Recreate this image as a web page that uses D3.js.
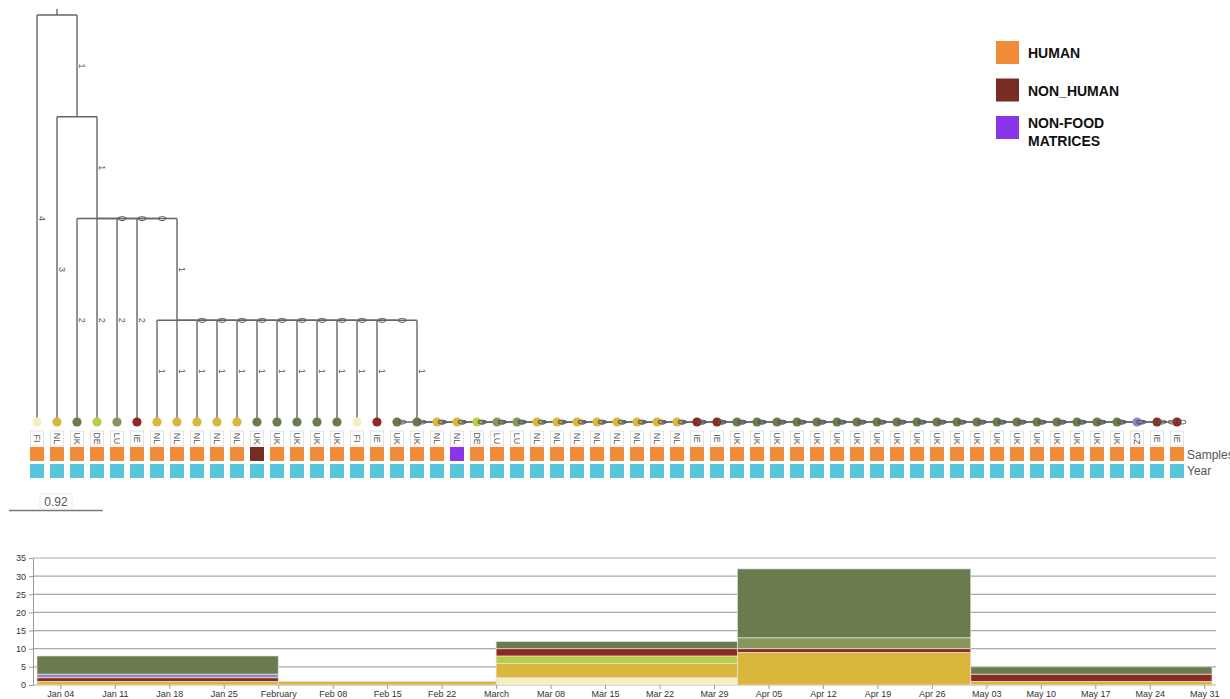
<!DOCTYPE html>
<html><head><meta charset="utf-8">
<script src="https://cdn.jsdelivr.net/npm/d3@7"></script>
<style>body{margin:0;background:#fff;} svg{display:block;font-family:"Liberation Sans",Arial,sans-serif;}</style>
</head><body>
<svg id="c" width="1230" height="699"></svg>
<script>
// ---------- DATA ----------
const treeNewick = "(0:4,(1:3,(2:2,3:2,4:2,5:2,(6:1,7:1,8:1,9:1,10:1,11:1,12:1,13:1,14:1,15:1,16:1,17:1,(18:0,19:0,20:0,21:0,22:0,23:0,24:0,25:0,26:0,27:0,28:0,29:0,30:0,31:0,32:0,33:0,34:0,35:0,36:0,37:0,38:0,39:0,40:0,41:0,42:0,43:0,44:0,45:0,46:0,47:0,48:0,49:0,50:0,51:0,52:0,53:0,54:0,55:0,56:0,57:0):1):1):1):1)";
const leafCountries = ["FI","NL","UK","DE","LU","IE","NL","NL","NL","NL","NL","UK","UK","UK","UK","UK","FI","IE","UK","UK",
  "NL","NL","DE","LU","LU","NL","NL","NL","NL","NL","NL","NL","NL","IE","IE",
  "UK","UK","UK","UK","UK","UK","UK","UK","UK","UK","UK","UK","UK","UK","UK","UK","UK","UK","UK","UK",
  "CZ","IE","IE"];
const leafSamples = ["H","H","H","H","H","H","H","H","H","H","H","N","H","H","H","H","H","H","H","H",
  "H","F","H","H","H","H","H","H","H","H","H","H","H","H","H",
  "H","H","H","H","H","H","H","H","H","H","H","H","H","H","H","H","H","H","H","H",
  "H","H","H"];
const legendLabels = [["HUMAN"],["NON_HUMAN"],["NON-FOOD","MATRICES"]];
const legendKeys = ["H","N","F"];
const scaleBarValue = 0.92;

const binStarts = ["2015-01-01","2015-02-01","2015-03-01","2015-04-01","2015-05-01"];
const binEnd = "2015-06-01";
const stackOrder = ["FI","NL","DE","IE","LU","CZ","UK"];
const countsFI = [0,0,2,0,0];
const countsNL = [1,1,4,9,1];
const countsDE = [0,0,2,0,0];
const countsIE = [1,0,2,1,2];
const countsLU = [0,0,0,3,0];
const countsCZ = [1,0,0,0,0];
const countsUK = [5,0,2,19,2];
const yTicks = [0,5,10,15,20,25,30,35];

// ---------- STYLES ----------
const countryColor = {FI:"#f6eebe",NL:"#dbb63d",UK:"#6a7c4e",DE:"#b8cf45",LU:"#84965a",IE:"#8c2b23",CZ:"#8d86c2"};
const sampleColor = {H:"#f28b37",N:"#772d24",F:"#8b35e8"};
const yearColor = "#57c5dc";

const svg = d3.select("#c");

// ---------- TREE ----------
function parseNewick(s){
  let i=0;
  function node(){
    const n={children:[]};
    if(s[i]==='('){ i++; n.children.push(node()); while(s[i]===','){i++; n.children.push(node());} i++; }
    let name=''; while(i<s.length && !':,()'.includes(s[i])) name+=s[i++];
    n.name=name;
    if(s[i]===':'){ i++; let num=''; while(i<s.length && !',()'.includes(s[i])) num+=s[i++]; n.length=+num; } else n.length=0;
    if(!n.children.length) delete n.children;
    return n;
  }
  return node();
}
function binarize(n){
  if(!n.children) return n;
  const kids = n.children.map(binarize);
  while(kids.length>2){
    const last2 = kids.splice(kids.length-2,2);
    kids.push({name:"",length:0,children:last2});
  }
  n.children = kids; return n;
}
const root = d3.hierarchy(binarize(parseNewick(treeNewick)));
const xLeaf = d3.scaleLinear().domain([0,57]).range([37,1177]);
const yDist = d3.scaleLinear().domain([0,4]).range([15,422]);
root.each(n=>{ n.dist = n.parent ? n.parent.dist + n.data.length : 0; });
root.eachAfter(n=>{ n.px = n.children ? d3.mean(n.children,c=>c.px) : xLeaf(+n.data.name); });

const gTree = svg.append("g");
const lineCol = "#666";
gTree.append("line").attr("x1",root.px).attr("x2",root.px).attr("y1",yDist(0)-6).attr("y2",yDist(0))
  .attr("stroke",lineCol).attr("stroke-width",1.4);
gTree.selectAll("line.v").data(root.descendants().filter(d=>d.parent)).join("line")
  .attr("x1",d=>d.px).attr("x2",d=>d.px)
  .attr("y1",d=>yDist(d.parent.dist)).attr("y2",d=>yDist(d.dist))
  .attr("stroke",lineCol).attr("stroke-width",1.4);
gTree.selectAll("line.h").data(root.descendants().filter(d=>d.children)).join("line")
  .attr("x1",d=>d3.min(d.children,c=>c.px)).attr("x2",d=>d3.max(d.children,c=>c.px))
  .attr("y1",d=>yDist(d.dist)).attr("y2",d=>yDist(d.dist))
  .attr("stroke",lineCol).attr("stroke-width",1.4);

const leaves = root.leaves();
gTree.selectAll("circle.leaf").data(leaves).join("circle")
  .attr("cx",d=>d.px).attr("cy",d=>yDist(d.dist)).attr("r",4.6)
  .attr("fill",d=>countryColor[leafCountries[+d.data.name]]);
gTree.selectAll("text.bl").data(root.descendants().filter(d=>d.parent)).join("text")
  .attr("transform",d=>`translate(${d.px+4.5},${(yDist(d.parent.dist)+yDist(d.dist))/2}) rotate(90)`)
  .attr("text-anchor","middle").attr("dominant-baseline","central")
  .attr("font-size",d=>d.data.length===0?10:9).attr("fill","#555").text(d=>d.data.length);

// leaf label boxes
const gLab = svg.append("g");
gLab.selectAll("rect").data(leaves).join("rect")
  .attr("x",d=>d.px-6.5).attr("y",431).attr("width",13).attr("height",15)
  .attr("fill","#fff").attr("stroke","#dcdcdc").attr("stroke-width",0.8);
gLab.selectAll("text").data(leaves).join("text")
  .attr("transform",d=>`translate(${d.px},438.5) rotate(90)`)
  .attr("text-anchor","middle").attr("dominant-baseline","central")
  .attr("font-size",9).attr("fill","#555").text(d=>leafCountries[+d.data.name]);

// sample row & year row
svg.append("g").selectAll("rect").data(leaves).join("rect")
  .attr("x",d=>d.px-7).attr("y",447).attr("width",14).attr("height",14)
  .attr("fill",d=>sampleColor[leafSamples[+d.data.name]]);
svg.append("g").selectAll("rect").data(leaves).join("rect")
  .attr("x",d=>d.px-7).attr("y",464).attr("width",14).attr("height",14)
  .attr("fill",yearColor);
svg.append("text").attr("x",1187).attr("y",458.5).attr("font-size",12).attr("fill","#555").text("Samples");
svg.append("text").attr("x",1187).attr("y",475).attr("font-size",12).attr("fill","#555").text("Year");

// scale bar
const sbLen = yDist(scaleBarValue)-yDist(0);
svg.append("line").attr("x1",9).attr("x2",9+sbLen).attr("y1",510.5).attr("y2",510.5).attr("stroke","#777").attr("stroke-width",1.4);
svg.append("rect").attr("x",40).attr("y",494).attr("width",32).attr("height",15).attr("fill","#fff").attr("stroke","#e4e4e4").attr("stroke-width",0.8);
svg.append("text").attr("x",56).attr("y",506).attr("text-anchor","middle").attr("font-size",12).attr("fill","#555").text(scaleBarValue);

// legend
const gLeg = svg.append("g");
legendKeys.forEach((k,i)=>{
  const y0 = 41 + i*37.5;
  gLeg.append("rect").attr("x",996).attr("y",y0).attr("width",23).attr("height",23).attr("fill",sampleColor[k]);
  legendLabels[i].forEach((t,j)=>{
    gLeg.append("text").attr("x",1028).attr("y",y0+17+j*18 - (legendLabels[i].length>1?5:0))
      .attr("font-size",14).attr("font-weight","bold").attr("fill","#111").text(t);
  });
});

// ---------- HISTOGRAM ----------
const parse = d3.utcParse("%Y-%m-%d");
const bins = binStarts.map((s,i)=>({start:parse(s), end: parse(i<binStarts.length-1?binStarts[i+1]:binEnd),
  FI:countsFI[i],NL:countsNL[i],DE:countsDE[i],IE:countsIE[i],LU:countsLU[i],CZ:countsCZ[i],UK:countsUK[i]}));
const x = d3.scaleUtc().domain([parse(binStarts[0]),parse(binEnd)]).range([37,1212]);
const y = d3.scaleLinear().domain([0,35]).range([685,558]);
const gH = svg.append("g");
gH.selectAll("line.grid").data(yTicks).join("line")
  .attr("x1",33).attr("x2",1216).attr("y1",d=>y(d)).attr("y2",d=>y(d))
  .attr("stroke","#a9a9a9").attr("stroke-width",1.2);
const ya = gH.append("g").attr("transform","translate(33,0)")
  .call(d3.axisLeft(y).tickValues(yTicks).tickSize(4).tickSizeOuter(0));
ya.select(".domain").attr("stroke","#999");
ya.selectAll(".tick line").attr("stroke","#999");
ya.selectAll("text").attr("font-size",9).attr("fill","#333").attr("font-family","Liberation Sans, Arial, sans-serif");
const stacked = d3.stack().keys(stackOrder)(bins);
gH.selectAll("g.layer").data(stacked).join("g").attr("fill",d=>countryColor[d.key])
  .selectAll("rect").data(d=>d.filter(s=>s[1]>s[0])).join("rect")
  .attr("x",d=>x(d.data.start)).attr("width",d=>x(d.data.end)-x(d.data.start))
  .attr("y",d=>y(d[1])).attr("height",d=>y(d[0])-y(d[1]))
  .attr("stroke","#e6e6e6").attr("stroke-width",0.7);
const fmt = d=> d3.utcMonth(d)<d ? d3.utcFormat("%b %d")(d) : d3.utcFormat("%B")(d);
const xa = gH.append("g").attr("transform","translate(0,685)")
  .call(d3.axisBottom(x).ticks(d3.utcSunday.every(1)).tickFormat(fmt).tickSize(4).tickSizeOuter(0));
xa.select(".domain").remove();
xa.selectAll(".tick line").attr("stroke","#999");
xa.selectAll("text").attr("font-size",9).attr("fill","#333").attr("dy","0.6em").attr("font-family","Liberation Sans, Arial, sans-serif");
</script>
</body></html>
